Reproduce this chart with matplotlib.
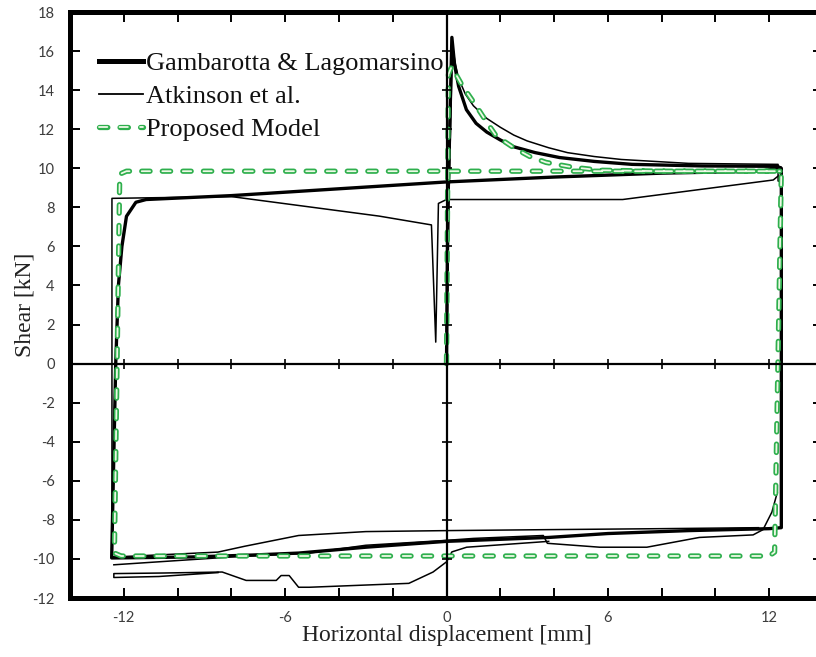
import matplotlib
matplotlib.use("Agg")
import matplotlib.pyplot as plt
import matplotlib.patheffects as pe
from matplotlib.ticker import MultipleLocator, FuncFormatter

plt.rcParams['lines.scale_dashes'] = False

# ---- data ----
# Gambarotta & Lagomarsino (thick black)
gam_x = [0, 0.05, 0.2, 0.3, 0.45, 0.74, 1.1, 1.5, 2.0, 2.5, 3.3, 4.2, 5.5, 6.9, 9.5, 12.3, 12.45, 12.45,
         12.0, 9.0, 6.0, 3.8, 0.0, -3.0, -5.5, -7.2, -9.5, -12.4, -12.45, -12.3, -12.2, -12.07, -11.9,
         -11.55, -11.17, -8.0, -4.0, 0.0, 4.0, 8.0, 11.65, 12.4]
gam_y = [0, 8.0, 16.7, 15.3, 14.2, 13.0, 12.3, 11.85, 11.45, 11.1, 10.8, 10.55, 10.35, 10.2, 10.12, 10.1,
         10.0, -8.4, -8.45, -8.55, -8.7, -8.9, -9.1, -9.4, -9.7, -9.8, -9.9, -9.95, -9.95, 0.0, 4.0, 6.0,
         7.54, 8.26, 8.4, 8.6, 8.95, 9.3, 9.55, 9.75, 9.85, 10.0]

# Atkinson et al. (thin black), several branches
atk1_x = [0, 0.1, 0.22, 0.32, 0.45, 0.7, 1.0, 1.5, 2.0, 2.5, 3.0, 3.8, 4.5, 5.5, 6.5, 9.0, 12.33, 12.33,
          12.45, 12.45]
atk1_y = [0, 9.0, 16.3, 15.4, 14.6, 13.8, 13.2, 12.55, 12.1, 11.7, 11.4, 11.05, 10.8, 10.6, 10.45, 10.25,
          10.2, 9.35, 9.3, -8.4]
atk2_x = [11.6, 8.0, 3.8, 0.0, -3.0, -5.5, -7.5, -8.5, -12.35, -12.35, -12.44, -12.44, -8.0, -2.5,
          -0.56, -0.4, -0.3, 0.0, 6.55, 12.15, 12.33]
atk2_y = [-8.4, -8.45, -8.5, -8.55, -8.6, -8.8, -9.35, -9.65, -9.9, -9.95, -9.95, 8.46, 8.55, 7.55,
          7.1, 1.1, 8.2, 8.4, 8.4, 9.4, 9.6]
atk3_x = [12.3, 12.1, 11.77, 11.4, 9.4, 7.45, 5.7, 3.75, 3.6, 1.0, 0.0, -3.0, -5.1, -8.0, -12.37]
atk3_y = [-6.6, -7.6, -8.5, -8.77, -8.9, -9.4, -9.4, -9.2, -8.8, -8.95, -9.05, -9.3, -9.7, -9.9, -10.3]
atk4_x = [3.8, 0.75, 0.2, 0.0, -0.5, -1.4, -5.1, -5.5, -5.85, -6.15, -6.33, -7.45, -8.34, -10.5,
          -12.37, -12.37, -10.7, -8.5]
atk4_y = [-9.1, -9.4, -9.64, -10.15, -10.67, -11.25, -11.45, -11.45, -10.85, -10.85, -11.1, -11.1,
          -10.67, -10.72, -10.75, -10.95, -10.9, -10.7]

# Proposed Model (green dashed)
prop_x = [0, 0.07, 0.19, 0.6, 1.1, 1.5, 1.85, 2.5, 3.1, 3.7, 4.7, 5.7, 8.0, 12.45, 12.2, 12.0, -12.1,
          -12.35, -12.15, -11.9, 12.4]
prop_y = [0, 14.8, 15.2, 14.2, 13.2, 12.35, 11.65, 11.05, 10.6, 10.3, 10.05, 9.9, 9.85, 9.85, -9.65,
          -9.85, -9.85, -9.7, 9.7, 9.85, 9.85]

x_lim = (-14, 14)
y_lim = (-12, 18)
x_label = "Horizontal displacement [mm]"
y_label = "Shear [kN]"
labels = ["Gambarotta & Lagomarsino", "Atkinson et al.", "Proposed Model"]

# ---- figure ----
W, H = 816, 657
fig = plt.figure(figsize=(W / 100, H / 100), dpi=100)
pos = [70 / W, (H - 598) / H, (823 - 70) / W, (598 - 12) / H]
ax = fig.add_axes(pos)
ax.set_xlim(*x_lim)
ax.set_ylim(*y_lim)

serif = "Liberation Serif"
tick_font = "Lato"

l_gam, = ax.plot(gam_x, gam_y, color="black", lw=2.4, solid_joinstyle="round", zorder=3)
ax.plot(atk1_x, atk1_y, color="black", lw=1.1, zorder=3)
ax.plot(atk2_x, atk2_y, color="black", lw=1.1, zorder=3)
ax.plot(atk3_x, atk3_y, color="black", lw=1.1, zorder=3)
l_atk, = ax.plot(atk4_x, atk4_y, color="black", lw=1.1, zorder=3)

green = "#2eaf4d"
l_prop, = ax.plot(prop_x, prop_y, color="#eef9e6", lw=1.3, linestyle=(0, (6.0, 8.8)),
                  dash_capstyle="round", zorder=4,
                  path_effects=[pe.Stroke(linewidth=3.8, foreground=green), pe.Normal()])

# frame
for s in ax.spines.values():
    s.set_linewidth(3.6)
    s.set_color("black")

ax.xaxis.set_major_locator(MultipleLocator(2))
ax.yaxis.set_major_locator(MultipleLocator(2))
ax.xaxis.set_major_formatter(FuncFormatter(
    lambda v, p: f"{int(round(v))}" if (abs(v) < 13 and int(round(v)) % 6 == 0) else ""))
ax.yaxis.set_major_formatter(FuncFormatter(lambda v, p: f"{int(round(v))}"))
ax.tick_params(axis="both", which="major", direction="in", length=7, width=1.4,
               top=True, right=True, colors="black", labelcolor="#3c3c3c",
               labelsize=10.5)
ax.tick_params(axis="y", pad=11)
ax.tick_params(axis="x", pad=9)
for lab in ax.get_xticklabels() + ax.get_yticklabels():
    lab.set_fontfamily(tick_font)

# axes crossing at zero with cross ticks
ax2 = fig.add_axes(pos, sharex=ax, sharey=ax)
ax2.patch.set_visible(False)
ax2.spines["top"].set_visible(False)
ax2.spines["right"].set_visible(False)
ax2.spines["left"].set_position(("data", 0))
ax2.spines["bottom"].set_position(("data", 0))
ax2.spines["left"].set_linewidth(1.6)
ax2.spines["bottom"].set_linewidth(1.6)
ax2.tick_params(axis="both", direction="inout", length=7, width=1.2,
                labelleft=False, labelbottom=False, top=False, right=False)

ax.set_xlabel(x_label, fontfamily=serif, fontsize=17, color="#222222", labelpad=0)
ax.set_ylabel(y_label, fontfamily=serif, fontsize=17, color="#222222", labelpad=-2)

leg = ax.legend([l_gam, l_atk, l_prop], labels, loc="upper left",
                bbox_to_anchor=(0.038, 0.932), frameon=False,
                prop={"family": serif, "size": 19}, handlelength=1.7,
                handletextpad=0.08, labelspacing=0.36, borderpad=0, borderaxespad=0)
leg.get_lines()[0].set_linewidth(3.6)
leg.get_lines()[1].set_linewidth(1.3)
for t in leg.get_texts():
    t.set_color("#111111")
leg.set_zorder(10)

fig.savefig("out.png", dpi=100, facecolor="white")
